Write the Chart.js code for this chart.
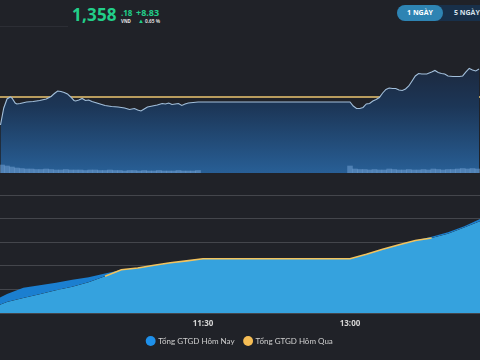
<!DOCTYPE html>
<html><head><meta charset="utf-8">
<script src="https://cdn.jsdelivr.net/npm/chart.js@4.4.1/dist/chart.umd.min.js"></script>
<style>
html,body{margin:0;padding:0;background:#202228;width:480px;height:360px;overflow:hidden;font-family:"Open Sans",sans-serif;}
.abs{position:absolute;white-space:nowrap;}
#c1{position:absolute;left:0;top:40px;}
#c2{position:absolute;left:0;top:175px;}
</style></head><body>
<div class="abs" style="left:0;top:26px;width:68px;height:1px;background:#2c2e35"></div>
<div class="abs" id="big" style="left:72px;top:3px;font-weight:700;font-size:17px;color:#22cf8a;letter-spacing:0.2px"></div>
<div class="abs" id="dec" style="left:121px;top:7px;font-weight:700;font-size:8px;color:#22cf8a"></div>
<div class="abs" id="unit" style="left:121px;top:18px;font-weight:700;font-size:4.5px;color:#e6e6e6"></div>
<div class="abs" id="chg" style="left:136px;top:6px;font-weight:700;font-size:9px;color:#22cf8a"></div>
<div class="abs" style="left:138px;top:17px;font-size:6px;color:#22cf8a">▲</div>
<div class="abs" id="pct" style="left:145px;top:18px;font-weight:700;font-size:4.8px;color:#d8d8d8"></div>
<div class="abs" style="left:397px;top:5px;width:110px;height:16px;border-radius:8px;background:#18304a"></div>
<div class="abs" style="left:397px;top:5px;width:46px;height:16px;border-radius:8px;background:#2e84b3;color:#fff;font-weight:700;font-size:7px;line-height:16px;text-align:center">1 NGÀY</div>
<div class="abs" style="left:454px;top:5px;height:16px;color:#d6e0ea;font-weight:700;font-size:7px;line-height:16px">5 NGÀY</div>
<canvas id="c1" width="480" height="133"></canvas>
<canvas id="c2" width="480" height="185"></canvas>
<script>
// ---- header values ----
const indexValue = "1,358";
const indexDecimals = ".18";
const indexUnit = "VND";
const indexChange = "+8.83";
const indexChangePct = "0.65 %";
const prevClose = 1349.35;

// ---- intraday price line ----
const priceTimes = ["09:26","09:28","09:30","09:32","09:33","09:35","09:36","09:38","09:42","09:46",
"09:50","09:54","09:57","09:59","10:01","10:03","10:05","10:07","10:09","10:11",
"10:12","10:14","10:16","10:18","10:20","10:22","10:24","10:27","10:30","10:34",
"10:38","10:42","10:45","10:48","10:50","10:52","10:54","10:56","10:59","11:02",
"11:05","11:07","11:09","11:11","11:13","11:15","11:17","11:19","11:21","11:24",
"11:27","11:30",
"13:00","13:02","13:04","13:06","13:08","13:10","13:12","13:14","13:16","13:18",
"13:20","13:22","13:24","13:26","13:28","13:30","13:32","13:34","13:36","13:38",
"13:40","13:42","13:44","13:47","13:50","13:52","13:54","13:56","13:58","14:00",
"14:03","14:07","14:09","14:11","14:13","14:15","14:17","14:19"];
const prices = [1340.52,1345.88,1348.72,1349.35,1349.03,1347.46,1347.14,1347.30,1347.77,1347.93,
1348.25,1348.72,1349.51,1350.45,1351.24,1351.08,1350.77,1350.30,1349.35,1348.25,
1348.09,1348.40,1348.88,1348.25,1348.40,1347.93,1347.62,1347.14,1346.67,1346.35,
1346.20,1345.88,1345.41,1345.72,1345.25,1344.93,1345.56,1346.20,1346.51,1346.83,
1347.30,1347.14,1347.46,1346.98,1347.14,1347.30,1346.67,1347.14,1347.46,1347.62,
1347.77,1347.77,
1347.77,1346.51,1345.72,1345.72,1346.04,1347.14,1347.30,1348.09,1348.56,1349.19,
1350.61,1351.72,1352.19,1352.03,1352.03,1351.56,1351.40,1351.87,1352.82,1354.40,
1355.97,1356.76,1356.61,1356.61,1357.24,1357.71,1357.08,1356.76,1356.61,1355.97,
1355.82,1355.82,1355.97,1357.24,1358.34,1357.87,1357.55,1358.18];

// ---- volume bars (3-minute) ----
const volTimes = ["09:27","09:30","09:33","09:36","09:39","09:42","09:45","09:48","09:51","09:54",
"09:57","10:00","10:03","10:06","10:09","10:12","10:15","10:18","10:21","10:24",
"10:27","10:30","10:33","10:36","10:39","10:42","10:45","10:48","10:51","10:54",
"10:57","11:00","11:03","11:06","11:09","11:12","11:15","11:18","11:21","11:24","11:27",
"13:00","13:03","13:06","13:09","13:12","13:15","13:18","13:21","13:24","13:27",
"13:30","13:33","13:36","13:39","13:42","13:45","13:48","13:51","13:54","13:57",
"14:00","14:03","14:06","14:09","14:12","14:15","14:18"];
const volumes = [8,7,6,5,4.5,4,4,3.5,3.5,4,3.5,3,3,3.5,3,3,3,2.5,3,3,2.5,2.5,3,2.5,2.5,2,2.5,2.5,2,2.5,2,2,2.5,2,2,2,2.5,2,2,2,2.5,
7,4,3.5,3.5,3,3.5,3,3,4,3.5,3,3,3.5,3,3,3.5,3,4,3.5,3,3.5,3.5,4,4.5,4,4.5,4];

// ---- cumulative trading value ----
const cumTimes = ["09:25","09:30","09:40","09:50","10:00","10:10","10:20","10:30","10:40","10:50","11:00","11:10","11:20","11:30",
"13:00","13:10","13:20","13:30","13:40","13:50","14:00","14:10","14:20"];
const todayValue = [0.63,0.81,1.07,1.18,1.28,1.41,1.52,1.67,1.82,1.90,2.01,2.12,2.20,2.29,
2.29,2.48,2.69,2.88,3.07,3.23,3.42,3.68,4.00];
const yesterdayValue = [0.33,0.47,0.64,0.79,0.96,1.11,1.30,1.56,1.83,1.91,2.02,2.13,2.21,2.30,
2.30,2.49,2.70,2.89,3.07,3.18,3.36,3.62,3.90];

const tickTimes = ["11:30","13:00"];
const seriesNames = ["Tổng GTGD Hôm Nay","Tổng GTGD Hôm Qua"];

// ---- helpers ----
const toMin = s => { const [h,m] = s.split(":").map(Number); return h*60+m; };
const fmt = v => { const h = Math.floor(v/60), m = Math.round(v%60); return String(h).padStart(2,"0")+":"+String(m).padStart(2,"0"); };
const X_MIN = 565.7, X_MAX = 859.6;

document.getElementById("big").textContent = indexValue;
document.getElementById("dec").textContent = indexDecimals;
document.getElementById("unit").textContent = indexUnit;
document.getElementById("chg").textContent = indexChange;
document.getElementById("pct").textContent = indexChangePct;

const pts = (ts, vs) => ts.map((t,i) => ({x: toMin(t), y: vs[i]}));

// ---- top chart ----
new Chart(document.getElementById("c1"), {
  type: "line",
  data: { datasets: [
    { type: "line", data: pts(priceTimes, prices), borderColor: "#a3c0dc", borderWidth: 1.1,
      pointRadius: 0, tension: 0, fill: "start", yAxisID: "y", order: 1,
      backgroundColor: (ctx) => {
        const a = ctx.chart.chartArea; if (!a) return "rgba(0,0,0,0)";
        const g = ctx.chart.ctx.createLinearGradient(0, a.top, 0, a.bottom);
        g.addColorStop(0, "#1f2536"); g.addColorStop(0.25, "#1c2b42");
        g.addColorStop(0.5, "#1c3657"); g.addColorStop(1, "#285f96");
        return g;
      } },
    { type: "line", data: [{x: X_MIN, y: prevClose}, {x: X_MAX, y: prevClose}], borderColor: "#b89c5e",
      borderWidth: 2, pointRadius: 0, fill: false, yAxisID: "y", order: 2 },
    { type: "bar", data: pts(volTimes, volumes), backgroundColor: "rgba(120,165,215,0.5)",
      barPercentage: 1, categoryPercentage: 1, yAxisID: "v", order: 0 }
  ]},
  options: {
    responsive: false, animation: false, devicePixelRatio: 1,
    layout: { padding: 0 },
    plugins: { legend: { display: false }, tooltip: { enabled: false } },
    scales: {
      x: { type: "linear", min: X_MIN, max: X_MAX, display: false, offset: false },
      y: { min: 1325.4, max: 1367.3, display: false },
      v: { min: 0, max: 133, display: false }
    }
  }
});

// ---- bottom chart ----
const orange = "#f2c35e";
const cumToday = pts(cumTimes, todayValue);
const cumYesterday = pts(cumTimes, yesterdayValue);
new Chart(document.getElementById("c2"), {
  type: "line",
  data: { datasets: [
    { label: seriesNames[1], data: cumYesterday, borderWidth: 1.6, borderColor: orange,
      pointRadius: 0, tension: 0, fill: false,
      segment: { borderColor: (c) => (todayValue[c.p0DataIndex] > yesterdayValue[c.p0DataIndex] + 0.02 &&
                                       todayValue[c.p1DataIndex] > yesterdayValue[c.p1DataIndex] + 0.02) ? "rgba(0,0,0,0)" : orange } },
    { label: seriesNames[0], data: cumToday, borderWidth: 0, borderColor: "rgba(0,0,0,0)",
      pointRadius: 0, tension: 0,
      fill: { target: 2, above: "#1b7fd0", below: "rgba(0,0,0,0)" } },
    { label: seriesNames[1], data: cumYesterday, borderWidth: 0, borderColor: "rgba(0,0,0,0)",
      backgroundColor: "#35a2de", pointRadius: 0, tension: 0, fill: "origin" }
  ]},
  options: {
    responsive: false, animation: false, devicePixelRatio: 1,
    layout: { padding: { top: 20, left: 0, right: 0, bottom: 5 } },
    plugins: {
      tooltip: { enabled: false },
      legend: { position: "bottom",
        labels: { color: "#d0d0d0", font: { family: "Lato", size: 8 }, usePointStyle: true,
          boxWidth: 7, boxHeight: 7, padding: 10,
          generateLabels: () => [
            { text: seriesNames[0], fillStyle: "#1e90ea", strokeStyle: "#1e90ea", lineWidth: 0, pointStyle: "circle", datasetIndex: 1, fontColor: "#d0d0d0" },
            { text: seriesNames[1], fillStyle: "#f5bd55", strokeStyle: "#f5bd55", lineWidth: 0, pointStyle: "circle", datasetIndex: 0, fontColor: "#d0d0d0" }
          ] } }
    },
    scales: {
      x: { type: "linear", min: X_MIN, max: X_MAX, offset: false,
        grid: { display: false, drawTicks: false }, border: { display: false },
        afterBuildTicks: (s) => { s.ticks = tickTimes.map(t => ({ value: toMin(t) })); },
        afterFit: (s) => { s.height = 14; },
        ticks: { color: "#d6d6d6", font: { family: "Open Sans", size: 8, weight: "bold" }, padding: 6,
          maxRotation: 0, autoSkip: false, callback: (v) => fmt(v) } },
      y: { min: 0, max: 5, ticks: { display: false, stepSize: 1 },
        grid: { color: "#44464c", lineWidth: 1, drawTicks: false }, border: { display: false } }
    }
  }
});
</script>
</body></html>
